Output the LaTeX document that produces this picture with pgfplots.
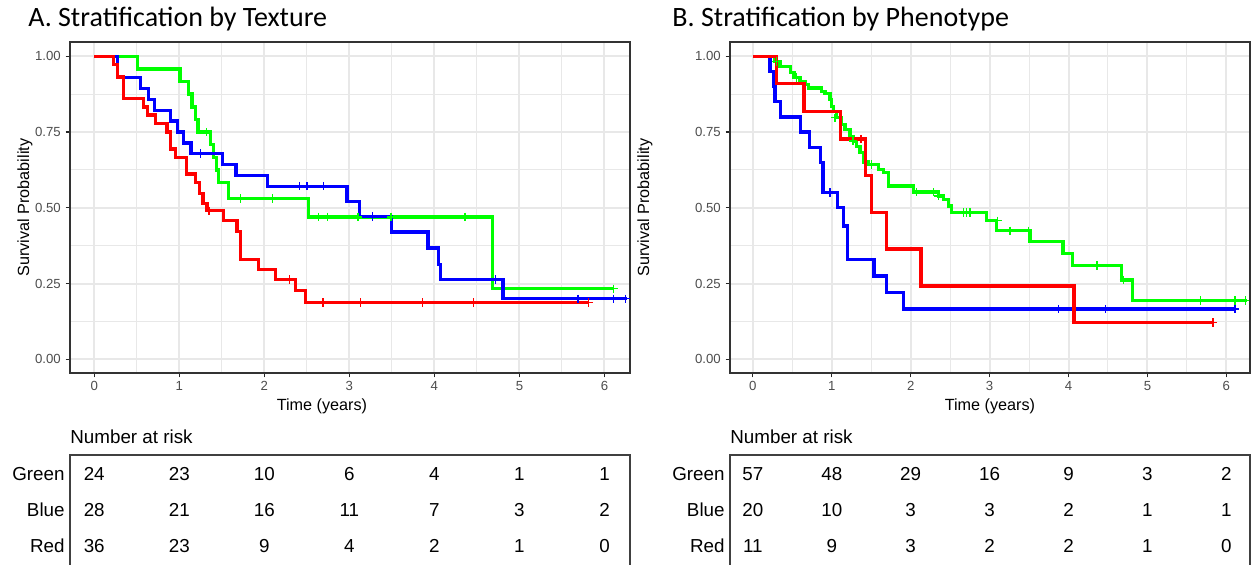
\documentclass[border=0pt]{standalone}
\usepackage{fontspec}
\setmainfont{Liberation Sans}
\newfontfamily\titlefont{Carlito}
\usepackage{pgfplots}
\pgfplotsset{compat=1.18}
\definecolor{gridgrey}{RGB}{232,232,232}
\definecolor{tickgrey}{RGB}{77,77,77}

\pgfplotsset{
  km/.style={
    scale only axis, height=165.5pt,
    xmin=-0.285, xmax=6.3, ymin=-0.045, ymax=1.047,
    xtick={0,1,2,3,4,5,6}, minor xtick={0.5,1.5,2.5,3.5,4.5,5.5},
    ytick={0,0.25,0.5,0.75,1}, yticklabels={0.00,0.25,0.50,0.75,1.00},
    minor ytick={0.125,0.375,0.625,0.875},
    grid=both,
    major grid style={line width=1pt, gridgrey},
    minor grid style={line width=0.5pt, gridgrey},
    axis line style={line width=0.7pt, black!80},
    tick align=outside, major tick length=2.2pt, minor tick length=0pt,
    xtick pos=bottom, ytick pos=left,
    tick style={line width=0.6pt, black!85},
    /pgf/number format/assume math mode=true,
    ticklabel style={font=\fontsize{6.6}{7}\selectfont, text=tickgrey},
    xticklabel style={inner sep=1pt},
    yticklabel style={inner sep=1.6pt},
    xlabel={Time (years)}, ylabel={Survival Probability},
    label style={font=\fontsize{8.1}{9}\selectfont},
    xlabel style={anchor=center}, ylabel style={anchor=center},
    const plot, line width=1.65pt,
  },
  cens/.style={only marks, mark=+, mark size=2.1pt, mark options={line width=0.65pt}},
  risk/.style={
    scale only axis, height=65pt,
    xmin=-0.285, xmax=6.3, ymin=-10, ymax=55,
    xtick=\empty, ytick={9.5,27.5,45.5}, yticklabels={Red,Blue,Green},
    major tick length=0pt, ytick pos=left,
    axis line style={line width=0.6pt, black!75},
    yticklabel style={font=\fontsize{9.4}{11}\selectfont, inner xsep=2.5pt},
    title={Number at risk},
    title style={at={(axis description cs:0,1)}, anchor=base west, yshift=-0.5pt,
      inner sep=0pt, font=\fontsize{9.4}{11}\selectfont},
  },
  riskrow/.style={draw=none, mark=none, nodes near coords, point meta=explicit symbolic,
    every node near coord/.append style={anchor=center, font=\fontsize{9.4}{11}\selectfont}},
}

\begin{document}
\begin{tikzpicture}
\useasboundingbox (0,0) rectangle (627pt,282.5pt);

\node[anchor=base west, inner sep=0pt, font=\titlefont\fontsize{14}{16}\selectfont]
  at (14pt,269.2pt) {A. Stratification by Texture};
\node[anchor=base west, inner sep=0pt, font=\titlefont\fontsize{14}{16}\selectfont]
  at (336pt,269.2pt) {B. Stratification by Phenotype};

% ---- A: texture ----
\begin{axis}[km, at={(35pt,96pt)}, anchor=south west, width=280pt,
  xlabel style={at={(axis description cs:0.45,-0.0997)}},
  ylabel style={at={(axis description cs:-0.0804,0.5)}}]
\addplot[green] coordinates {(0,1) (0.51,0.958) (1.01,0.917) (1.11,0.875) (1.15,0.833)
  (1.19,0.792) (1.22,0.75) (1.365,0.708) (1.40,0.667) (1.435,0.625) (1.46,0.583)
  (1.58,0.53) (2.52,0.47) (4.68,0.233) (6.11,0.233)};
\addplot[green, cens] coordinates {(1.32,0.75) (1.72,0.53) (2.10,0.53) (2.64,0.47)
  (2.74,0.47) (3.10,0.47) (3.49,0.47) (4.36,0.47) (6.11,0.233)};
\addplot[blue] coordinates {(0,1) (0.275,0.929) (0.54,0.893) (0.64,0.857) (0.706,0.821)
  (0.894,0.786) (0.98,0.75) (1.05,0.714) (1.137,0.679) (1.51,0.643) (1.667,0.607)
  (2.04,0.571) (2.973,0.521) (3.12,0.471) (3.494,0.42) (3.926,0.367) (4.05,0.313)
  (4.07,0.263) (4.808,0.2) (6.27,0.2)};
\addplot[blue, cens] coordinates {(1.247,0.679) (2.415,0.571) (2.502,0.571) (2.698,0.571)
  (3.27,0.471) (4.72,0.263) (5.69,0.2) (6.11,0.2) (6.25,0.2)};
\addplot[red] coordinates {(0,1) (0.227,0.972) (0.274,0.931) (0.345,0.861) (0.58,0.833)
  (0.627,0.806) (0.718,0.778) (0.855,0.75) (0.894,0.694) (0.953,0.667) (1.082,0.611)
  (1.188,0.583) (1.239,0.548) (1.278,0.515) (1.325,0.49) (1.52,0.458) (1.678,0.422)
  (1.718,0.329) (1.933,0.296) (2.129,0.263) (2.365,0.228) (2.482,0.188) (5.82,0.188)};
\addplot[red, cens] coordinates {(1.35,0.49) (2.30,0.263) (2.69,0.188) (3.13,0.188)
  (3.86,0.188) (4.46,0.188) (5.81,0.188)};
\end{axis}

% ---- B: phenotype ----
\begin{axis}[km, at={(365pt,96pt)}, anchor=south west, width=260pt, xmin=-0.29,
  xlabel style={at={(axis description cs:0.5,-0.0997)}},
  ylabel style={at={(axis description cs:-0.1635,0.5)}}]
\addplot[green] coordinates {(0,1) (0.279,0.982) (0.342,0.965) (0.477,0.947) (0.52,0.93)
  (0.596,0.915) (0.659,0.906) (0.701,0.895) (0.87,0.884) (0.913,0.877) (0.976,0.857)
  (0.997,0.835) (1.018,0.818) (1.06,0.797) (1.124,0.775) (1.166,0.758) (1.229,0.736)
  (1.271,0.72) (1.314,0.703) (1.356,0.682) (1.398,0.651) (1.462,0.643) (1.588,0.627)
  (1.652,0.616) (1.715,0.572) (2.032,0.552) (2.349,0.539) (2.413,0.528) (2.476,0.506)
  (2.518,0.484) (2.962,0.457) (3.09,0.424) (3.51,0.388) (3.93,0.35) (4.05,0.309)
  (4.67,0.262) (4.81,0.194) (6.26,0.194)};
\addplot[green, cens] coordinates {(0.30,0.982) (0.55,0.93) (1.04,0.797) (1.27,0.72)
  (1.50,0.643) (2.07,0.552) (2.29,0.552) (2.35,0.539) (2.67,0.484) (2.71,0.484)
  (2.75,0.484) (3.10,0.457) (3.26,0.424) (3.49,0.424) (4.36,0.309) (4.70,0.262)
  (5.67,0.194) (6.11,0.194) (6.24,0.194)};
\addplot[blue] coordinates {(0,1) (0.215,0.95) (0.258,0.90) (0.279,0.85) (0.351,0.80)
  (0.602,0.75) (0.72,0.70) (0.856,0.65) (0.89,0.55) (1.07,0.50) (1.15,0.44) (1.20,0.33)
  (1.534,0.275) (1.69,0.22) (1.91,0.166) (6.11,0.166)};
\addplot[blue, cens] coordinates {(0.976,0.55) (3.87,0.166) (4.47,0.166) (6.11,0.166)};
\addplot[red] coordinates {(0,1) (0.30,0.909) (0.646,0.818) (1.11,0.727) (1.43,0.606)
  (1.50,0.485) (1.69,0.364) (2.13,0.242) (4.07,0.121) (5.83,0.121)};
\addplot[red, cens] coordinates {(1.37,0.727) (5.83,0.121)};
\end{axis}

% ---- numbers at risk ----
\begin{axis}[risk, at={(35pt,-10pt)}, anchor=south west, width=280pt]
\addplot[riskrow] table[meta=n] {
x y n
0 45.5 24
1 45.5 23
2 45.5 10
3 45.5 6
4 45.5 4
5 45.5 1
6 45.5 1
0 27.5 28
1 27.5 21
2 27.5 16
3 27.5 11
4 27.5 7
5 27.5 3
6 27.5 2
0 9.5 36
1 9.5 23
2 9.5 9
3 9.5 4
4 9.5 2
5 9.5 1
6 9.5 0
};
\end{axis}

\begin{axis}[risk, at={(365pt,-10pt)}, anchor=south west, width=260pt, xmin=-0.29]
\addplot[riskrow] table[meta=n] {
x y n
0 45.5 57
1 45.5 48
2 45.5 29
3 45.5 16
4 45.5 9
5 45.5 3
6 45.5 2
0 27.5 20
1 27.5 10
2 27.5 3
3 27.5 3
4 27.5 2
5 27.5 1
6 27.5 1
0 9.5 11
1 9.5 9
2 9.5 3
3 9.5 2
4 9.5 2
5 9.5 1
6 9.5 0
};
\end{axis}
\end{tikzpicture}
\end{document}
